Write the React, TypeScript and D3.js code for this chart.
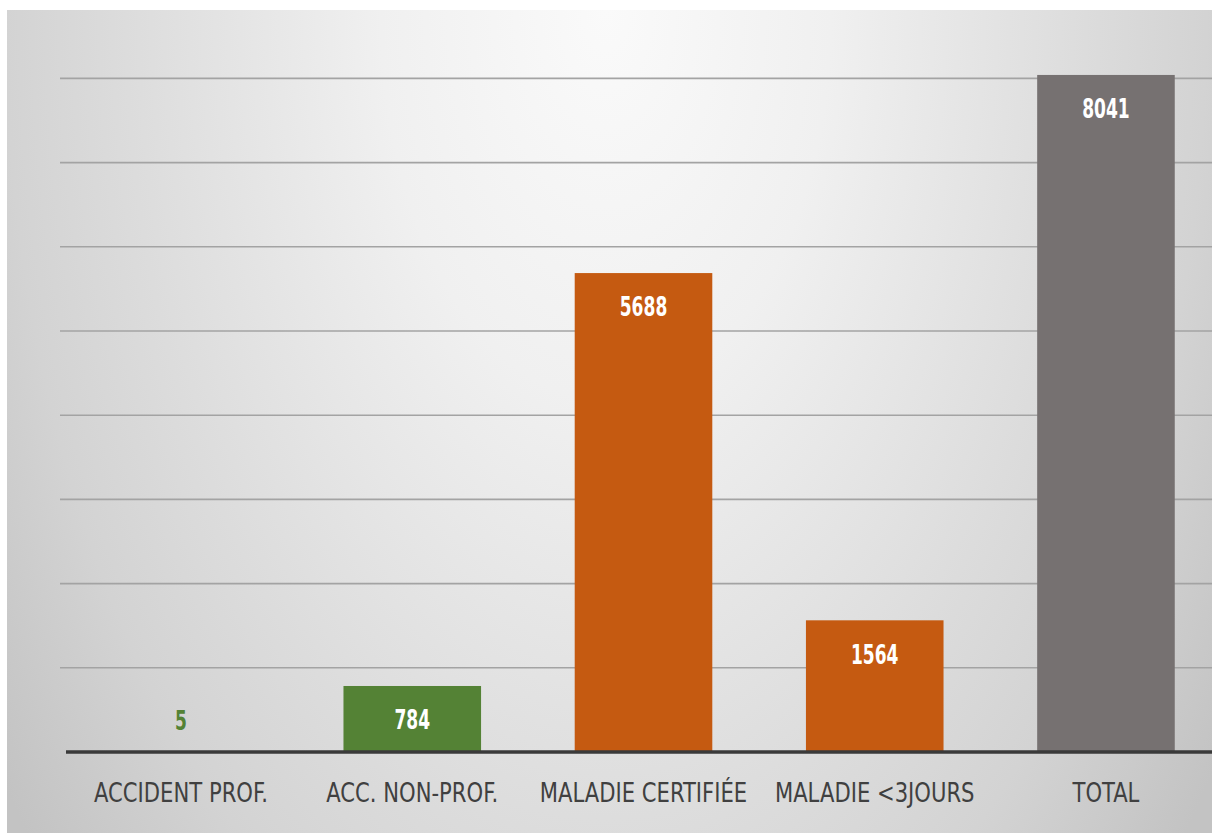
import React from "react";
import * as d3 from "d3";

const categories = ["ACCIDENT PROF.", "ACC. NON-PROF.", "MALADIE CERTIFIÉE", "MALADIE <3JOURS", "TOTAL"];
const values = [5, 784, 5688, 1564, 8041];
const barColors = ["#548235", "#548235", "#C55A11", "#C55A11", "#767171"];
const gridTicks = [1000, 2000, 3000, 4000, 5000, 6000, 7000, 8000];

const W = 1212;
const H = 833;
const FONT = "'DejaVu Sans Condensed', 'Liberation Sans Narrow', 'Open Sans', sans-serif";

export default function App() {
  const x = d3.scaleBand<string>().domain(categories).range([66, 1221]).paddingInner(0.405).paddingOuter(0.2);
  const y = d3.scaleLinear().domain([0, 9000]).range([752, 752 - 9 * 84.2]);
  const base = y(0);

  return (
    <svg width={W} height={H} style={{ position: "absolute", left: 0, top: 0, display: "block" }}>
      <defs>
        <radialGradient
          id="bg"
          gradientUnits="userSpaceOnUse"
          cx={606}
          cy={10}
          r={750}
          fx={606}
          fy={10}
          gradientTransform="translate(606,10) scale(1,1.73) translate(-606,-10)"
        >
          <stop offset="0" stopColor="#fafafa" />
          <stop offset="0.3" stopColor="#f0f0f0" />
          <stop offset="0.64" stopColor="#dcdcdc" />
          <stop offset="0.8" stopColor="#d3d3d3" />
          <stop offset="1" stopColor="#c3c3c3" />
        </radialGradient>
      </defs>
      <rect x={0} y={0} width={W} height={H} fill="#ffffff" />
      <rect x={7} y={10} width={W - 7} height={H - 10} fill="url(#bg)" />
      {gridTicks.map((t) => (
        <line key={t} x1={60} x2={W} y1={y(t)} y2={y(t)} stroke="#a3a3a3" strokeWidth={1.6} />
      ))}
      {categories.map((c, i) => {
        const v = values[i];
        const bx = x(c)!;
        const bw = x.bandwidth();
        const top = y(v);
        const h = base - top;
        const inside = h > 45;
        const ly = inside ? top + 34 : top - 31;
        const cx = bx + bw / 2;
        return (
          <g key={c}>
            <rect x={bx} y={top} width={bw} height={h} fill={barColors[i]} />
            <text
              transform={`translate(${cx},${ly}) scale(1,1.4)`}
              textAnchor="middle"
              dominantBaseline="central"
              fontFamily={FONT}
              fontSize={19}
              fontWeight="bold"
              fill={inside ? "#ffffff" : barColors[i]}
            >
              {v}
            </text>
            <text
              transform={`translate(${cx},${792}) scale(1,1.15)`}
              textAnchor="middle"
              dominantBaseline="central"
              fontFamily={FONT}
              fontSize={23.5}
              fill="#404040"
            >
              {c}
            </text>
          </g>
        );
      })}
      <line x1={66} x2={W} y1={base} y2={base} stroke="#3a3a3a" strokeWidth={3.5} />
    </svg>
  );
}
